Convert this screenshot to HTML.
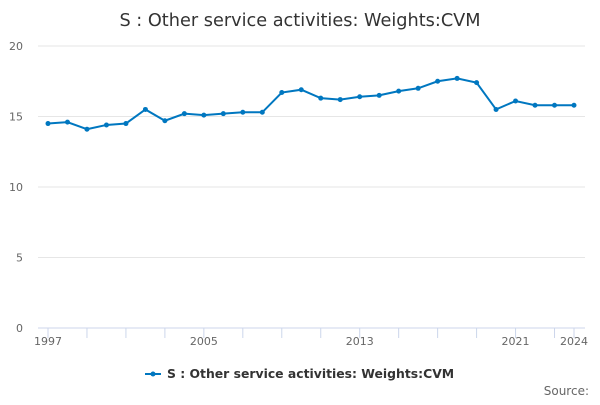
<!DOCTYPE html>
<html><head><meta charset="utf-8"><style>
body{margin:0;background:#fff;font-family:"Liberation Sans","DejaVu Sans",sans-serif}
svg text{font-family:"DejaVu Sans","Liberation Sans",sans-serif}
</style></head><body>
<svg width="600" height="400" viewBox="0 0 600 400">
<text x="300" y="26" text-anchor="middle" font-size="17.7" fill="#333">S : Other service activities: Weights:CVM</text>
<g id="grid"></g><g id="xaxis"></g><g id="series"></g>
<g>
<line x1="145" y1="374" x2="161" y2="374" stroke="#0077c0" stroke-width="2"/>
<circle cx="153" cy="374" r="2.5" fill="#0077c0"/>
<text x="167" y="378" font-size="12.4" font-weight="bold" fill="#333">S : Other service activities: Weights:CVM</text>
</g>
<text x="589" y="395" text-anchor="end" font-size="12" fill="#666">Source:</text>
</svg>
<script>
const years=[1997,1998,1999,2000,2001,2002,2003,2004,2005,2006,2007,2008,2009,2010,2011,2012,2013,2014,2015,2016,2017,2018,2019,2020,2021,2022,2023,2024];
const values=[14.5,14.6,14.1,14.4,14.5,15.5,14.7,15.2,15.1,15.2,15.3,15.3,16.7,16.9,16.3,16.2,16.4,16.5,16.8,17.0,17.5,17.7,17.4,15.5,16.1,15.8,15.8,15.8];
const yTicks=[0,5,10,15,20];
const xLabels=[1997,2005,2013,2021,2024];
const NS="http://www.w3.org/2000/svg";
const X=y=>48+(y-1997)*(574-48)/27;
const Y=v=>328-v*(328-46)/20;
function mk(t,a,p){const e=document.createElementNS(NS,t);for(const k in a)e.setAttribute(k,a[k]);p.appendChild(e);return e;}
const g=document.getElementById('grid');
yTicks.forEach(t=>{
 if(t>0){const l=mk('line',{x1:38,x2:585,y1:Y(t),y2:Y(t),stroke:'#e6e6e6'},g);
 
 }
 const tx=mk('text',{x:23,y:Y(t)+4,'text-anchor':'end','font-size':11,fill:'#666'},g);tx.textContent=t;
 
 
});
const xa=document.getElementById('xaxis');
const ax=mk('line',{x1:38,x2:585,y1:328,y2:328,stroke:'#ccd6eb'},xa);


years.forEach((y,i)=>{if((y-1997)%2===0||y===2024){mk('line',{x1:X(y),x2:X(y),y1:328,y2:338,stroke:'#ccd6eb'},xa);}});
xLabels.forEach(y=>{const t=mk('text',{x:X(y),y:345,'text-anchor':'middle','font-size':11,fill:'#666'},xa);t.textContent=y;
 
 });
const s=document.getElementById('series');
const p=mk('polyline',{points:years.map((y,i)=>X(y)+','+Y(values[i])).join(' '),fill:'none',stroke:'#0077c0','stroke-width':2},s);


years.forEach((y,i)=>{const c=mk('circle',{cx:X(y),cy:Y(values[i]),r:2.5,fill:'#0077c0'},s);
 
 });
</script>
</body></html>
